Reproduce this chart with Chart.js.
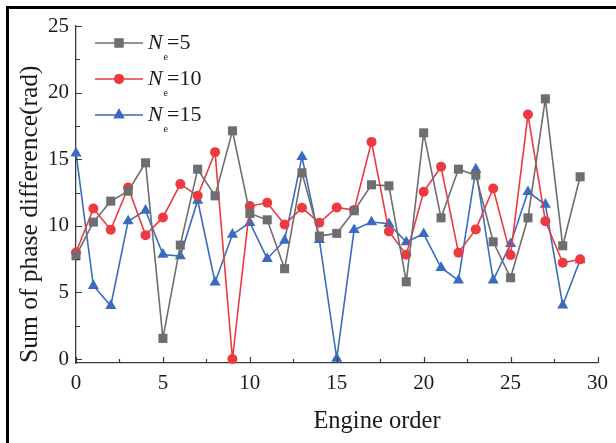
<!DOCTYPE html>
<html lang="en">
<head>
<meta charset="UTF-8">
<title>Sum of phase difference</title>
<script src="https://cdn.jsdelivr.net/npm/chart.js"></script>
<style>
    html, body { margin: 0; padding: 0; background: #fff; }
    canvas { display: block; }
</style>
</head>
<body>
<canvas id="phaseChart" width="616" height="443"></canvas>
<script>
// Engine orders 0..29 and the summed phase difference for each N_e setting
const engineOrder = [0, 1, 2, 3, 4, 5, 6, 7, 8, 9, 10, 11, 12, 13, 14, 15, 16, 17, 18, 19, 20, 21, 22, 23, 24, 25, 26, 27, 28, 29];
const sumNe5 = [7.75, 10.28, 11.85, 12.6, 14.73, 1.55, 8.55, 14.25, 12.25, 17.13, 10.93, 10.45, 6.78, 13.98, 9.23, 9.43, 11.13, 13.08, 13.0, 5.8, 16.98, 10.6, 14.25, 13.8, 8.8, 6.1, 10.6, 19.53, 8.5, 13.68];
const sumNe10 = [8.0, 11.3, 9.7, 12.88, 9.3, 10.63, 13.13, 12.25, 15.53, 0, 11.48, 11.73, 10.1, 11.35, 10.23, 11.38, 11.18, 16.3, 9.58, 7.83, 12.55, 14.43, 7.98, 9.73, 12.8, 7.8, 18.35, 10.35, 7.23, 7.48];
const sumNe15 = [15.45, 5.5, 4.0, 10.35, 11.15, 7.85, 7.73, 11.9, 5.75, 9.35, 10.23, 7.53, 8.9, 15.18, 8.95, 0.03, 9.7, 10.28, 10.15, 8.78, 9.4, 6.85, 5.9, 14.25, 5.9, 8.65, 12.55, 11.6, 4.03, 7.43];

const neValues = ['5', '10', '15'];
const xTicks = [0, 5, 10, 15, 20, 25, 30];
const yTicks = [0, 5, 10, 15, 20, 25];
const xTitle = 'Engine order';
const yTitle = 'Sum of phase difference(rad)';

const serif = "'Liberation Serif', 'Times New Roman', serif";
const axisColor = '#3a3a3a';
const textColor = '#1a1a1a';
const colors = ['#6e6e70', '#ee3a3f', '#3a6bbf'];
const shapes = ['rect', 'circle', 'triangle'];
const radii = [6.4, 5, 6.4];

function points(values) {
    return engineOrder.map((x, i) => ({ x: x, y: values[i] }));
}

const seriesValues = [sumNe5, sumNe10, sumNe15];
const datasets = seriesValues.map((vals, i) => ({
    label: 'Ne=' + neValues[i],
    data: points(vals),
    showLine: true,
    borderColor: colors[i],
    backgroundColor: colors[i],
    borderWidth: 1.6,
    pointStyle: shapes[i],
    pointRadius: radii[i],
    pointBorderWidth: 0,
    pointBackgroundColor: colors[i],
    tension: 0,
    clip: false
}));

// outer black frame of the figure
const framePlugin = {
    id: 'frame',
    afterDraw(chart) {
        const ctx = chart.ctx;
        ctx.save();
        ctx.strokeStyle = '#000';
        ctx.lineWidth = 3;
        ctx.strokeRect(7.5, 7.5, 700, 700);
        ctx.restore();
    }
};

// inward major and minor ticks on both axes
const innerTicks = {
    id: 'innerTicks',
    afterDraw(chart) {
        const { ctx, chartArea, scales } = chart;
        ctx.save();
        ctx.strokeStyle = axisColor;
        ctx.lineWidth = 1.2;
        ctx.beginPath();
        for (let v = 0; v <= 30; v += 2.5) {
            const px = Math.round(scales.x.getPixelForValue(v)) + 0.5;
            const len = v % 5 === 0 ? 6 : 4;
            ctx.moveTo(px, chartArea.bottom);
            ctx.lineTo(px, chartArea.bottom - len);
        }
        for (let v = 0; v <= 25; v += 2.5) {
            const py = Math.round(scales.y.getPixelForValue(v)) + 0.5;
            const len = v % 5 === 0 ? 6 : 4;
            ctx.moveTo(chartArea.left, py);
            ctx.lineTo(chartArea.left + len, py);
        }
        ctx.stroke();
        ctx.restore();
    }
};

// x axis title sits a little right of the plot centre
const xTitlePlugin = {
    id: 'xTitle',
    afterDraw(chart) {
        const ctx = chart.ctx;
        ctx.save();
        ctx.fillStyle = textColor;
        ctx.font = '24.5px ' + serif;
        ctx.textAlign = 'center';
        ctx.textBaseline = 'alphabetic';
        ctx.fillText(xTitle, 377, 428);
        ctx.restore();
    }
};

// legend with subscripted N_e labels
const subLegend = {
    id: 'subLegend',
    afterDraw(chart) {
        const ctx = chart.ctx;
        const rowY = [43, 79, 115];
        ctx.save();
        chart.data.datasets.forEach((ds, i) => {
            const y = rowY[i];
            ctx.strokeStyle = ds.borderColor;
            ctx.lineWidth = 1.6;
            ctx.beginPath();
            ctx.moveTo(95, y);
            ctx.lineTo(143, y);
            ctx.stroke();
            ctx.fillStyle = ds.borderColor;
            Chart.helpers.drawPoint(ctx, {
                pointStyle: ds.pointStyle,
                radius: ds.pointRadius,
                borderWidth: 0
            }, 119, y);
            ctx.fill();

            ctx.fillStyle = textColor;
            ctx.textBaseline = 'middle';
            ctx.textAlign = 'left';
            ctx.font = 'italic 22px ' + serif;
            ctx.fillText('N', 148, y);
            ctx.font = '10px ' + serif;
            ctx.fillText('e', 163.5, y + 14);
            ctx.font = '22px ' + serif;
            ctx.fillText('=' + neValues[i], 167, y);
        });
        ctx.restore();
    }
};

new Chart(document.getElementById('phaseChart'), {
    type: 'scatter',
    data: { datasets: datasets },
    options: {
        responsive: false,
        animation: false,
        events: [],
        layout: { padding: { top: 26, right: 16, bottom: 0, left: 0 } },
        plugins: {
            legend: { display: false },
            tooltip: { enabled: false }
        },
        scales: {
            x: {
                type: 'linear',
                min: 0,
                max: 30,
                afterBuildTicks(scale) { scale.ticks = xTicks.map(v => ({ value: v })); },
                afterFit(scale) { scale.height = 80; },
                grid: { display: false, drawTicks: false },
                border: { display: true, color: axisColor, width: 1.3 },
                ticks: {
                    padding: 8,
                    color: textColor,
                    font: { family: serif, size: 21 }
                }
            },
            y: {
                type: 'linear',
                min: -0.3,
                max: 25,
                afterBuildTicks(scale) { scale.ticks = yTicks.map(v => ({ value: v })); },
                afterFit(scale) { scale.width = 76; },
                grid: { display: false, drawTicks: false },
                border: { display: true, color: axisColor, width: 1.3 },
                ticks: {
                    padding: 7,
                    color: textColor,
                    font: { family: serif, size: 21 }
                },
                title: {
                    display: true,
                    text: yTitle,
                    align: 'start',
                    color: textColor,
                    font: { family: serif, size: 25.5 },
                    padding: { top: 15, bottom: 0 }
                }
            }
        }
    },
    plugins: [framePlugin, innerTicks, xTitlePlugin, subLegend]
});
</script>
</body>
</html>
